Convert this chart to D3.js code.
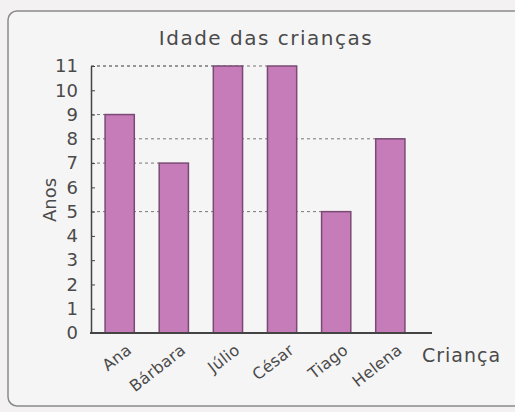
<!DOCTYPE html>
<html>
<head>
<meta charset="utf-8">
<script src="https://cdn.jsdelivr.net/npm/d3@7"></script>
<style>
  body { margin: 0; background: #f3f1f2; }
  svg { display: block; }
  text { font-family: "DejaVu Sans", Verdana, sans-serif; fill: #4a4a4a; }
</style>
</head>
<body>
<div id="canvas"></div>
<script>
// data
var criancas = ['Ana', 'Bárbara', 'Júlio', 'César', 'Tiago', 'Helena'];
var idades = [9, 7, 11, 11, 5, 8];
var yTicks = [0, 1, 2, 3, 4, 5, 6, 7, 8, 9, 10, 11];

var W = 515, H = 412;

var svg = d3.select('#canvas').append('svg')
    .attr('width', W)
    .attr('height', H);

// frame
svg.append('rect')
    .attr('x', 8).attr('y', 11)
    .attr('width', 520).attr('height', 395)
    .attr('rx', 9)
    .style('fill', '#f6f5f6')
    .style('stroke', '#8a8a8a')
    .style('stroke-width', 1.5);

var x = d3.scaleBand()
    .domain(criancas)
    .range([91, 419])
    .paddingInner(0.46)
    .paddingOuter(0.26);

var y = d3.scaleLinear()
    .domain([0, 11])
    .range([333, 66]);

// dashed guide lines from axis to each bar
svg.selectAll('.guide')
    .data(idades)
    .enter().append('line')
    .attr('class', 'guide')
    .attr('x1', 91)
    .attr('x2', function(d, i){ return x(criancas[i]); })
    .attr('y1', function(d){ return y(d); })
    .attr('y2', function(d){ return y(d); })
    .style('stroke', '#777')
    .style('stroke-width', 1)
    .style('stroke-dasharray', '3,3');

// bars
svg.selectAll('.bar')
    .data(idades)
    .enter().append('rect')
    .attr('class', 'bar')
    .attr('x', function(d, i){ return x(criancas[i]); })
    .attr('y', function(d){ return y(d); })
    .attr('width', x.bandwidth())
    .attr('height', function(d){ return y(0) - y(d); })
    .style('fill', '#c57cb9')
    .style('stroke', '#7a4a74')
    .style('stroke-width', 1.5);

// y axis
var yAxis = svg.append('g')
    .attr('transform', 'translate(91,0)')
    .call(d3.axisLeft(y).tickValues(yTicks).tickSizeInner(4).tickSizeOuter(0).tickPadding(9));
yAxis.select('.domain').style('stroke', '#444').style('stroke-width', 1.5);
yAxis.selectAll('.tick line').attr('x2', 4).style('stroke', '#444');
yAxis.selectAll('.tick text')
    .style('font-family', '"DejaVu Sans", Verdana, sans-serif')
    .style('font-size', '18px')
    .style('fill', '#4a4a4a');

// x axis line
svg.append('line')
    .attr('x1', 90).attr('x2', 432)
    .attr('y1', y(0)).attr('y2', y(0))
    .style('stroke', '#444')
    .style('stroke-width', 2);

// x labels
svg.selectAll('.xlab')
    .data(criancas)
    .enter().append('text')
    .attr('class', 'xlab')
    .attr('transform', function(d){ return 'translate(' + (x(d) + x.bandwidth()/2 + 13) + ',' + 352 + ') rotate(-38)'; })
    .attr('text-anchor', 'end')
    .style('font-size', '16px')
    .style('letter-spacing', '0.3px')
    .text(function(d){ return d; });

// title and axis names
svg.append('text')
    .attr('x', 266).attr('y', 45)
    .attr('text-anchor', 'middle')
    .style('font-size', '20px')
    .style('letter-spacing', '1.5px')
    .text('Idade das crianças');

svg.append('text')
    .attr('transform', 'translate(56,200) rotate(-90)')
    .attr('text-anchor', 'middle')
    .style('font-size', '18px')
    .text('Anos');

svg.append('text')
    .attr('x', 422).attr('y', 362)
    .style('font-size', '19px')
    .style('letter-spacing', '1px')
    .text('Criança');
</script>
</body>
</html>
